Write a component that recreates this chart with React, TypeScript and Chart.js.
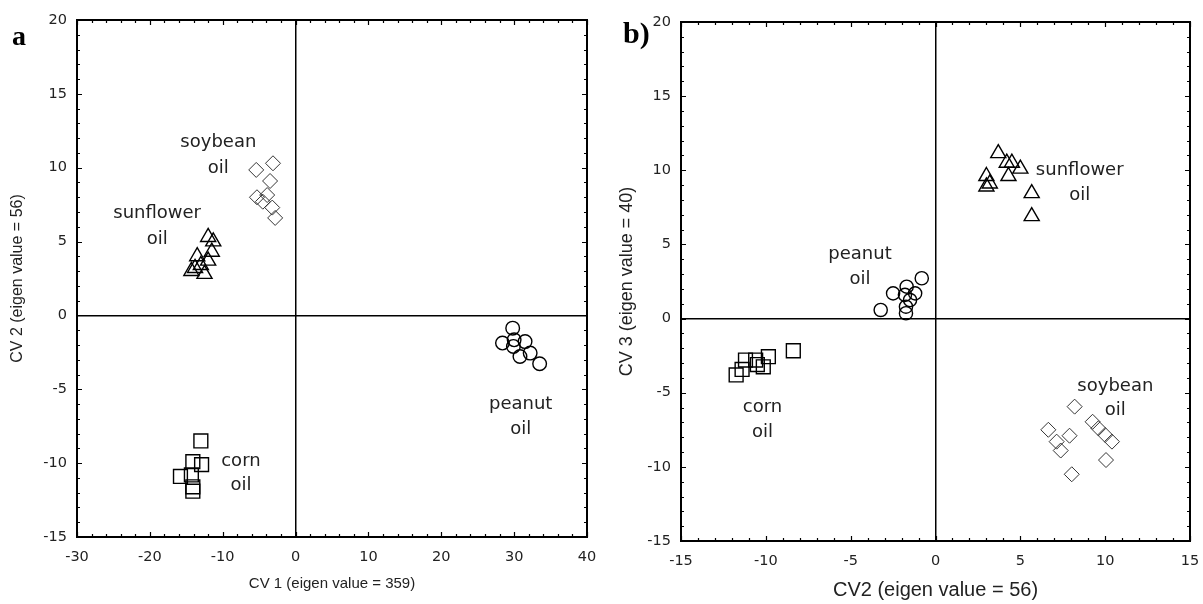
import React, { useEffect, useRef } from "react";
import { Chart, registerables } from "chart.js";

Chart.register(...registerables);

// ---------- Panel a data (CV1 vs CV2) ----------
const aSoybeanX = [-3.1, -5.4, -3.5, -5.3, -3.9, -4.5, -3.2, -2.8];
const aSoybeanY = [10.3, 9.85, 9.1, 8.0, 8.15, 7.7, 7.3, 6.6];
const aSunflowerX = [-12.0, -11.3, -11.5, -13.5, -12.0, -13.8, -14.3, -12.5, -13.0];
const aSunflowerY = [5.3, 5.0, 4.3, 4.0, 3.7, 3.2, 3.0, 2.8, 3.4];
const aCornX = [-13.0, -14.1, -12.9, -15.8, -14.3, -14.1, -14.1];
const aCornY = [-8.5, -9.9, -10.1, -10.9, -10.8, -11.6, -11.9];
const aPeanutX = [29.8, 28.4, 30.0, 31.5, 29.9, 30.8, 32.2, 33.5];
const aPeanutY = [-0.86, -1.87, -1.65, -1.77, -2.1, -2.78, -2.55, -3.27];

// ---------- Panel b data (CV2 vs CV3) ----------
const bSunflowerX = [3.7, 4.2, 4.5, 5.0, 4.3, 3.0, 3.2, 3.0, 5.67, 5.67];
const bSunflowerY = [11.15, 10.5, 10.5, 10.1, 9.6, 9.6, 9.1, 8.9, 8.45, 6.9];
const bPeanutX = [-0.81, -1.7, -2.5, -1.8, -1.2, -1.5, -1.74, -1.74, -3.23];
const bPeanutY = [2.72, 2.15, 1.7, 1.6, 1.7, 1.25, 0.8, 0.36, 0.58];
const bCornX = [-8.38, -9.85, -10.6, -11.2, -10.15, -11.4, -11.75, -10.5];
const bCornY = [-2.17, -2.57, -2.8, -2.8, -3.25, -3.43, -3.8, -3.1];
const bSoybeanX = [8.2, 6.65, 9.26, 9.6, 10.0, 10.4, 7.9, 7.14, 7.38, 10.05, 8.03];
const bSoybeanY = [-5.94, -7.5, -6.96, -7.4, -7.85, -8.3, -7.9, -8.3, -8.9, -9.54, -10.5];

// ---------- Axis ranges / titles ----------
const aXRange = [-30, 40, 10, 2];
const aYRange = [-15, 20, 5, 1];
const bXRange = [-15, 15, 5, 1];
const bYRange = [-15, 20, 5, 1];
const aXTitle = "CV 1 (eigen value = 359)";
const aYTitle = "CV 2 (eigen value = 56)";
const bXTitle = "CV2 (eigen value = 56)";
const bYTitle = "CV 3 (eigen value = 40)";

// ---------- Cluster labels ----------
const aLabels = [
  { lines: ["soybean", "oil"], x: -10.6, y: [11.7, 9.95] },
  { lines: ["sunflower", "oil"], x: -19.0, y: [6.9, 5.15] },
  { lines: ["corn", "oil"], x: -7.5, y: [-9.85, -11.5] },
  { lines: ["peanut", "oil"], x: 30.9, y: [-6.0, -7.7] },
];
const bLabels = [
  { lines: ["sunflower", "oil"], x: 8.5, y: [10.0, 8.3] },
  { lines: ["peanut", "oil"], x: -4.45, y: [4.35, 2.65] },
  { lines: ["corn", "oil"], x: -10.2, y: [-5.96, -7.7] },
  { lines: ["soybean", "oil"], x: 10.6, y: [-4.55, -6.2] },
];

const zip = (xs: number[], ys: number[]) => xs.map((x, i) => ({ x, y: ys[i] }));

const marker = (data: any[], style: string, radius: number, width = 1.4, color = "#000") => ({
  data,
  pointStyle: style,
  pointRadius: radius,
  pointHoverRadius: radius,
  pointBorderWidth: width,
  pointBorderColor: color,
  pointBackgroundColor: "rgba(0,0,0,0)",
  showLine: false,
});

const framePlugin = {
  id: "frameMinor",
  afterDraw(chart: any, _args: any, opts: any) {
    const { ctx, chartArea } = chart;
    const xs = chart.scales.x;
    const ys = chart.scales.y;
    ctx.save();
    ctx.strokeStyle = "#000";
    ctx.lineWidth = 1.2;
    const tick = (v: number, major: boolean, horiz: boolean) => {
      const len = major ? 5 : 3;
      ctx.beginPath();
      if (horiz) {
        const p = Math.round(xs.getPixelForValue(v)) + 0.5;
        ctx.moveTo(p, chartArea.bottom);
        ctx.lineTo(p, chartArea.bottom - len);
        ctx.moveTo(p, chartArea.top);
        ctx.lineTo(p, chartArea.top + len);
      } else {
        const p = Math.round(ys.getPixelForValue(v)) + 0.5;
        ctx.moveTo(chartArea.left, p);
        ctx.lineTo(chartArea.left + len, p);
        ctx.moveTo(chartArea.right, p);
        ctx.lineTo(chartArea.right - len, p);
      }
      ctx.stroke();
    };
    const [x0, x1, xm, xn] = opts.xr;
    for (let v = x0; v <= x1 + 1e-9; v += xn) tick(v, Math.abs(((v - x0) % xm)) < 1e-6, true);
    const [y0, y1, ym, yn] = opts.yr;
    for (let v = y0; v <= y1 + 1e-9; v += yn) tick(v, Math.abs(((v - y0) % ym)) < 1e-6, false);
    ctx.lineWidth = 2;
    ctx.strokeRect(chartArea.left, chartArea.top, chartArea.right - chartArea.left, chartArea.bottom - chartArea.top);

    // cluster labels
    ctx.fillStyle = "#222";
    ctx.font = "18px 'DejaVu Sans', Verdana, sans-serif";
    ctx.textAlign = "center";
    ctx.textBaseline = "middle";
    for (const l of opts.labels) {
      l.lines.forEach((t: string, i: number) => {
        ctx.fillText(t, xs.getPixelForValue(l.x), ys.getPixelForValue(l.y[i]));
      });
    }
    // panel tag
    ctx.fillStyle = "#000";
    ctx.font = `bold ${opts.tagSize}px 'Liberation Serif', 'Times New Roman', serif`;
    ctx.textAlign = "left";
    ctx.textBaseline = "alphabetic";
    ctx.fillText(opts.tag, opts.tagX, opts.tagY);
    ctx.restore();
  },
};

function Panel(props: any) {
  const ref = useRef<HTMLCanvasElement>(null);
  useEffect(() => {
    const p = props;
    const tickFont = { family: "'DejaVu Sans', Verdana, sans-serif", size: 14.5 };
    const xTitleFont = { family: "'Liberation Sans', Arial, sans-serif", size: p.xTitleSize };
    const yTitleFont = { family: "'Liberation Sans', Arial, sans-serif", size: p.yTitleSize };
    const gridColor = (c: any) => (c.tick && c.tick.value === 0 ? "#000" : "rgba(0,0,0,0)");
    const chart = new Chart(ref.current as HTMLCanvasElement, {
      type: "scatter",
      data: { datasets: p.datasets },
      options: {
        animation: false,
        responsive: false,
        layout: { padding: { top: p.padTop, right: p.padRight, left: 0, bottom: 0 } },
        plugins: {
          legend: { display: false },
          tooltip: { enabled: false },
          frameMinor: {
            xr: p.xr, yr: p.yr, labels: p.labels,
            tag: p.tag, tagX: p.tagX, tagY: p.tagY, tagSize: p.tagSize,
          },
        } as any,
        scales: {
          x: {
            type: "linear",
            min: p.xr[0], max: p.xr[1],
            ticks: { stepSize: p.xr[2], color: "#222", font: tickFont, padding: 12, maxRotation: 0 },
            grid: { drawTicks: false, color: gridColor, lineWidth: 1.5 },
            border: { display: false },
            title: { display: true, text: p.xTitle, color: "#222", font: xTitleFont, padding: { top: 0, bottom: p.xTitlePad } },
            afterFit: (s: any) => { s.height = p.xAxisH; s.paddingLeft = 0; s.paddingRight = 0; },
          },
          y: {
            type: "linear",
            min: p.yr[0], max: p.yr[1],
            ticks: { stepSize: p.yr[2], color: "#222", font: tickFont, padding: 10 },
            grid: { drawTicks: false, color: gridColor, lineWidth: 1.5 },
            border: { display: false },
            title: { display: true, text: p.yTitle, color: "#222", font: yTitleFont, padding: { top: p.yTitlePad, bottom: 0 } },
            afterFit: (s: any) => { s.width = p.yAxisW; s.paddingTop = 0; s.paddingBottom = 0; },
          },
        },
      },
      plugins: [framePlugin],
    } as any);
    return () => chart.destroy();
  }, []);
  return (
    <canvas
      ref={ref}
      width={props.w}
      height={604}
      style={{ position: "absolute", left: props.left, top: 0, width: props.w, height: 604 }}
    />
  );
}

export default function App() {
  const aDatasets = [
    marker(zip(aSoybeanX, aSoybeanY), "rectRot", 7.5, 1, "#333"),
    marker(zip(aSunflowerX, aSunflowerY), "triangle", 8.7),
    marker(zip(aCornX, aCornY), "rect", 9.8),
    marker(zip(aPeanutX, aPeanutY), "circle", 6.8),
  ];
  const bDatasets = [
    marker(zip(bSunflowerX, bSunflowerY), "triangle", 8.7),
    marker(zip(bPeanutX, bPeanutY), "circle", 6.6),
    marker(zip(bCornX, bCornY), "rect", 9.8),
    marker(zip(bSoybeanX, bSoybeanY), "rectRot", 7.5, 1, "#333"),
  ];
  return (
    <div style={{ position: "fixed", left: 0, top: 0, width: 1203, height: 604, background: "#fff" }}>
      <Panel
        left={0} w={600} datasets={aDatasets} xr={aXRange} yr={aYRange}
        xTitle={aXTitle} yTitle={aYTitle} labels={aLabels}
        padTop={20} padRight={13} xAxisH={67} yAxisW={77}
        xTitlePad={11.4} yTitlePad={8.4} xTitleSize={15} yTitleSize={16}
        tag="a" tagX={12} tagY={45} tagSize={28}
      />
      <Panel
        left={600} w={603} datasets={bDatasets} xr={bXRange} yr={bYRange}
        xTitle={bXTitle} yTitle={bYTitle} labels={bLabels}
        padTop={22} padRight={13} xAxisH={63} yAxisW={81}
        xTitlePad={2} yTitlePad={16} xTitleSize={20} yTitleSize={18}
        tag="b)" tagX={23} tagY={43} tagSize={30}
      />
    </div>
  );
}
